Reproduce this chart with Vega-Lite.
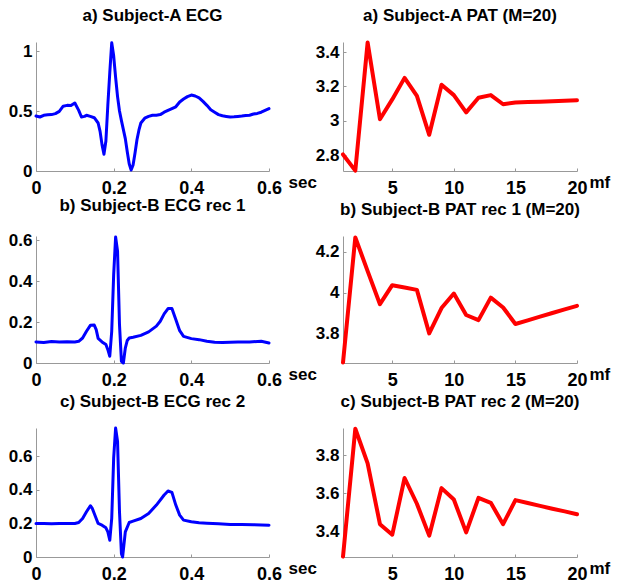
{
  "$schema": "https://vega.github.io/schema/vega-lite/v6.json",
  "background": "white",
  "padding": {"left": 8, "top": 6, "right": 5, "bottom": 0},
  "bounds": "flush",
  "columns": 2,
  "spacing": {"row": 65, "column": 74},
  "datasets": {
    "ecgA": [
      {"t":0,"v":0.458},{"t":0.01,"v":0.45},{"t":0.02,"v":0.464},{"t":0.03,"v":0.468},{"t":0.04,"v":0.47},{"t":0.05,"v":0.478},{"t":0.06,"v":0.497},{"t":0.07,"v":0.54},{"t":0.08,"v":0.547},{"t":0.09,"v":0.545},{"t":0.10,"v":0.567},{"t":0.11,"v":0.505},{"t":0.117,"v":0.45},{"t":0.125,"v":0.455},{"t":0.13,"v":0.464},{"t":0.14,"v":0.455},{"t":0.15,"v":0.444},{"t":0.16,"v":0.40},{"t":0.165,"v":0.33},{"t":0.17,"v":0.22},{"t":0.175,"v":0.14},{"t":0.18,"v":0.25},{"t":0.185,"v":0.55},{"t":0.19,"v":0.82},{"t":0.195,"v":1.068},{"t":0.20,"v":0.96},{"t":0.205,"v":0.78},{"t":0.21,"v":0.62},{"t":0.215,"v":0.5},{"t":0.22,"v":0.42},{"t":0.23,"v":0.27},{"t":0.235,"v":0.16},{"t":0.24,"v":0.06},{"t":0.245,"v":0.008},{"t":0.25,"v":0.05},{"t":0.255,"v":0.15},{"t":0.26,"v":0.26},{"t":0.265,"v":0.34},{"t":0.27,"v":0.40},{"t":0.28,"v":0.44},{"t":0.29,"v":0.455},{"t":0.30,"v":0.464},{"t":0.31,"v":0.465},{"t":0.32,"v":0.47},{"t":0.33,"v":0.49},{"t":0.34,"v":0.505},{"t":0.35,"v":0.52},{"t":0.36,"v":0.535},{"t":0.37,"v":0.575},{"t":0.38,"v":0.60},{"t":0.39,"v":0.62},{"t":0.40,"v":0.633},{"t":0.41,"v":0.625},{"t":0.42,"v":0.61},{"t":0.43,"v":0.58},{"t":0.44,"v":0.547},{"t":0.45,"v":0.51},{"t":0.46,"v":0.49},{"t":0.47,"v":0.47},{"t":0.48,"v":0.46},{"t":0.49,"v":0.455},{"t":0.50,"v":0.45},{"t":0.51,"v":0.452},{"t":0.52,"v":0.455},{"t":0.53,"v":0.458},{"t":0.54,"v":0.462},{"t":0.55,"v":0.465},{"t":0.56,"v":0.475},{"t":0.57,"v":0.48},{"t":0.58,"v":0.49},{"t":0.59,"v":0.505},{"t":0.60,"v":0.52}
    ],
    "ecgB1": [
      {"t":0,"v":0.103},{"t":0.02,"v":0.1},{"t":0.04,"v":0.105},{"t":0.06,"v":0.102},{"t":0.08,"v":0.104},{"t":0.10,"v":0.103},{"t":0.11,"v":0.106},{"t":0.12,"v":0.122},{"t":0.13,"v":0.155},{"t":0.14,"v":0.184},{"t":0.15,"v":0.185},{"t":0.155,"v":0.163},{"t":0.16,"v":0.12},{"t":0.17,"v":0.103},{"t":0.18,"v":0.09},{"t":0.185,"v":0.065},{"t":0.19,"v":0.033},{"t":0.195,"v":0.155},{"t":0.20,"v":0.43},{"t":0.205,"v":0.615},{"t":0.21,"v":0.546},{"t":0.215,"v":0.187},{"t":0.22,"v":0.008},{"t":0.225,"v":0.0},{"t":0.23,"v":0.073},{"t":0.235,"v":0.11},{"t":0.24,"v":0.122},{"t":0.25,"v":0.126},{"t":0.27,"v":0.135},{"t":0.29,"v":0.152},{"t":0.31,"v":0.18},{"t":0.32,"v":0.204},{"t":0.33,"v":0.24},{"t":0.34,"v":0.266},{"t":0.35,"v":0.266},{"t":0.36,"v":0.212},{"t":0.37,"v":0.158},{"t":0.38,"v":0.13},{"t":0.40,"v":0.119},{"t":0.42,"v":0.114},{"t":0.44,"v":0.106},{"t":0.46,"v":0.101},{"t":0.48,"v":0.1},{"t":0.50,"v":0.101},{"t":0.52,"v":0.102},{"t":0.55,"v":0.103},{"t":0.58,"v":0.106},{"t":0.60,"v":0.098}
    ],
    "ecgB2": [
      {"t":0,"v":0.2},{"t":0.02,"v":0.2},{"t":0.04,"v":0.198},{"t":0.06,"v":0.2},{"t":0.08,"v":0.2},{"t":0.10,"v":0.2},{"t":0.11,"v":0.206},{"t":0.12,"v":0.23},{"t":0.13,"v":0.27},{"t":0.14,"v":0.306},{"t":0.145,"v":0.29},{"t":0.15,"v":0.26},{"t":0.16,"v":0.2},{"t":0.17,"v":0.19},{"t":0.18,"v":0.174},{"t":0.185,"v":0.15},{"t":0.19,"v":0.1},{"t":0.195,"v":0.23},{"t":0.20,"v":0.59},{"t":0.205,"v":0.77},{"t":0.21,"v":0.69},{"t":0.215,"v":0.27},{"t":0.22,"v":0.02},{"t":0.223,"v":0.0},{"t":0.23,"v":0.15},{"t":0.24,"v":0.206},{"t":0.25,"v":0.214},{"t":0.27,"v":0.23},{"t":0.29,"v":0.26},{"t":0.31,"v":0.31},{"t":0.33,"v":0.37},{"t":0.34,"v":0.394},{"t":0.35,"v":0.386},{"t":0.36,"v":0.31},{"t":0.37,"v":0.25},{"t":0.38,"v":0.22},{"t":0.40,"v":0.21},{"t":0.42,"v":0.205},{"t":0.44,"v":0.202},{"t":0.47,"v":0.198},{"t":0.50,"v":0.194},{"t":0.53,"v":0.194},{"t":0.56,"v":0.193},{"t":0.60,"v":0.19}
    ],
    "patA": [
      {"mf":1,"p":2.806},{"mf":2,"p":2.712},{"mf":3,"p":3.455},{"mf":4,"p":3.01},{"mf":5,"p":3.125},{"mf":6,"p":3.25},{"mf":7,"p":3.145},{"mf":8,"p":2.92},{"mf":9,"p":3.21},{"mf":10,"p":3.15},{"mf":11,"p":3.05},{"mf":12,"p":3.135},{"mf":13,"p":3.15},{"mf":14,"p":3.097},{"mf":15,"p":3.107},{"mf":16,"p":3.11},{"mf":17,"p":3.112},{"mf":18,"p":3.115},{"mf":19,"p":3.118},{"mf":20,"p":3.12}
    ],
    "patB1": [
      {"mf":1,"p":3.657},{"mf":2,"p":4.27},{"mf":3,"p":4.105},{"mf":4,"p":3.943},{"mf":5,"p":4.036},{"mf":6,"p":4.025},{"mf":7,"p":4.013},{"mf":8,"p":3.80},{"mf":9,"p":3.924},{"mf":10,"p":3.995},{"mf":11,"p":3.89},{"mf":12,"p":3.865},{"mf":13,"p":3.975},{"mf":14,"p":3.927},{"mf":15,"p":3.846},{"mf":16,"p":3.864},{"mf":17,"p":3.882},{"mf":18,"p":3.9},{"mf":19,"p":3.918},{"mf":20,"p":3.935}
    ],
    "patB2": [
      {"mf":1,"p":3.268},{"mf":2,"p":3.938},{"mf":3,"p":3.757},{"mf":4,"p":3.438},{"mf":5,"p":3.383},{"mf":6,"p":3.68},{"mf":7,"p":3.545},{"mf":8,"p":3.378},{"mf":9,"p":3.627},{"mf":10,"p":3.567},{"mf":11,"p":3.395},{"mf":12,"p":3.576},{"mf":13,"p":3.55},{"mf":14,"p":3.438},{"mf":15,"p":3.564},{"mf":16,"p":3.549},{"mf":17,"p":3.534},{"mf":18,"p":3.519},{"mf":19,"p":3.505},{"mf":20,"p":3.49}
    ]
  },
  "config": {
    "view": {"stroke": null},
    "axis": {
      "labelFont": "Liberation Sans", "labelFontSize": 17, "labelFontWeight": "bold", "labelColor": "#000",
      "domainColor": "#999999", "tickColor": "#999999", "grid": false, "tickSize": -3,
      "titleFont": "Liberation Sans", "titleFontSize": 17, "titleFontWeight": "bold", "titleColor": "#000",
      "labelFlush": false, "labelOverlap": false, "format": "~g"
    },
    "axisX": {"labelPadding": 11, "labelFontSize": 18, "titleAlign": "left", "titleBaseline": "alphabetic", "titleY": 16},
    "axisY": {"labelPadding": 7},
    "title": {"font": "Liberation Sans", "fontSize": 17, "fontWeight": "bold", "frame": "group", "baseline": "alphabetic", "offset": 16, "color": "#000", "anchor": "middle"},
    "line": {"strokeJoin": "round", "strokeCap": "round"}
  },
  "concat": [
    {
      "title": "a) Subject-A ECG", "width": 233, "height": 129,
      "data": {"name": "ecgA"},
      "mark": {"type": "line", "color": "#0000ff", "strokeWidth": 3},
      "encoding": {
        "x": {"field": "t", "type": "quantitative", "scale": {"domain": [0, 0.6], "nice": false}, "axis": {"values": [0, 0.2, 0.4, 0.6], "title": "sec", "titleX": 252}},
        "y": {"field": "v", "type": "quantitative", "scale": {"domain": [0, 1.075], "nice": false}, "axis": {"values": [0, 0.5, 1], "title": null}}
      }
    },
    {
      "title": "a) Subject-A PAT (M=20)", "width": 234, "height": 129,
      "data": {"name": "patA"},
      "mark": {"type": "line", "color": "#ff0000", "strokeWidth": 4},
      "encoding": {
        "x": {"field": "mf", "type": "quantitative", "scale": {"domain": [1, 20], "nice": false}, "axis": {"values": [5, 10, 15, 20], "title": "mf", "titleX": 246}},
        "y": {"field": "p", "type": "quantitative", "scale": {"domain": [2.71, 3.458], "nice": false, "zero": false}, "axis": {"values": [2.8, 3, 3.2, 3.4], "title": null}}
      }
    },
    {
      "title": "b) Subject-B ECG rec 1", "width": 233, "height": 127,
      "data": {"name": "ecgB1"},
      "mark": {"type": "line", "color": "#0000ff", "strokeWidth": 3},
      "encoding": {
        "x": {"field": "t", "type": "quantitative", "scale": {"domain": [0, 0.6], "nice": false}, "axis": {"values": [0, 0.2, 0.4, 0.6], "title": "sec", "titleX": 252}},
        "y": {"field": "v", "type": "quantitative", "scale": {"domain": [0, 0.62], "nice": false}, "axis": {"values": [0, 0.2, 0.4, 0.6], "title": null}}
      }
    },
    {
      "title": "b) Subject-B PAT rec 1 (M=20)", "width": 234, "height": 127,
      "data": {"name": "patB1"},
      "mark": {"type": "line", "color": "#ff0000", "strokeWidth": 4},
      "encoding": {
        "x": {"field": "mf", "type": "quantitative", "scale": {"domain": [1, 20], "nice": false}, "axis": {"values": [5, 10, 15, 20], "title": "mf", "titleX": 246}},
        "y": {"field": "p", "type": "quantitative", "scale": {"domain": [3.655, 4.277], "nice": false, "zero": false}, "axis": {"values": [3.8, 4, 4.2], "title": null}}
      }
    },
    {
      "title": "c) Subject-B ECG rec 2", "width": 233, "height": 129,
      "data": {"name": "ecgB2"},
      "mark": {"type": "line", "color": "#0000ff", "strokeWidth": 3},
      "encoding": {
        "x": {"field": "t", "type": "quantitative", "scale": {"domain": [0, 0.6], "nice": false}, "axis": {"values": [0, 0.2, 0.4, 0.6], "title": "sec", "titleX": 252}},
        "y": {"field": "v", "type": "quantitative", "scale": {"domain": [0, 0.77], "nice": false}, "axis": {"values": [0, 0.2, 0.4, 0.6], "title": null}}
      }
    },
    {
      "title": "c) Subject-B PAT rec 2 (M=20)", "width": 234, "height": 129,
      "data": {"name": "patB2"},
      "mark": {"type": "line", "color": "#ff0000", "strokeWidth": 4},
      "encoding": {
        "x": {"field": "mf", "type": "quantitative", "scale": {"domain": [1, 20], "nice": false}, "axis": {"values": [5, 10, 15, 20], "title": "mf", "titleX": 246}},
        "y": {"field": "p", "type": "quantitative", "scale": {"domain": [3.266, 3.942], "nice": false, "zero": false}, "axis": {"values": [3.4, 3.6, 3.8], "title": null}}
      }
    }
  ]
}
